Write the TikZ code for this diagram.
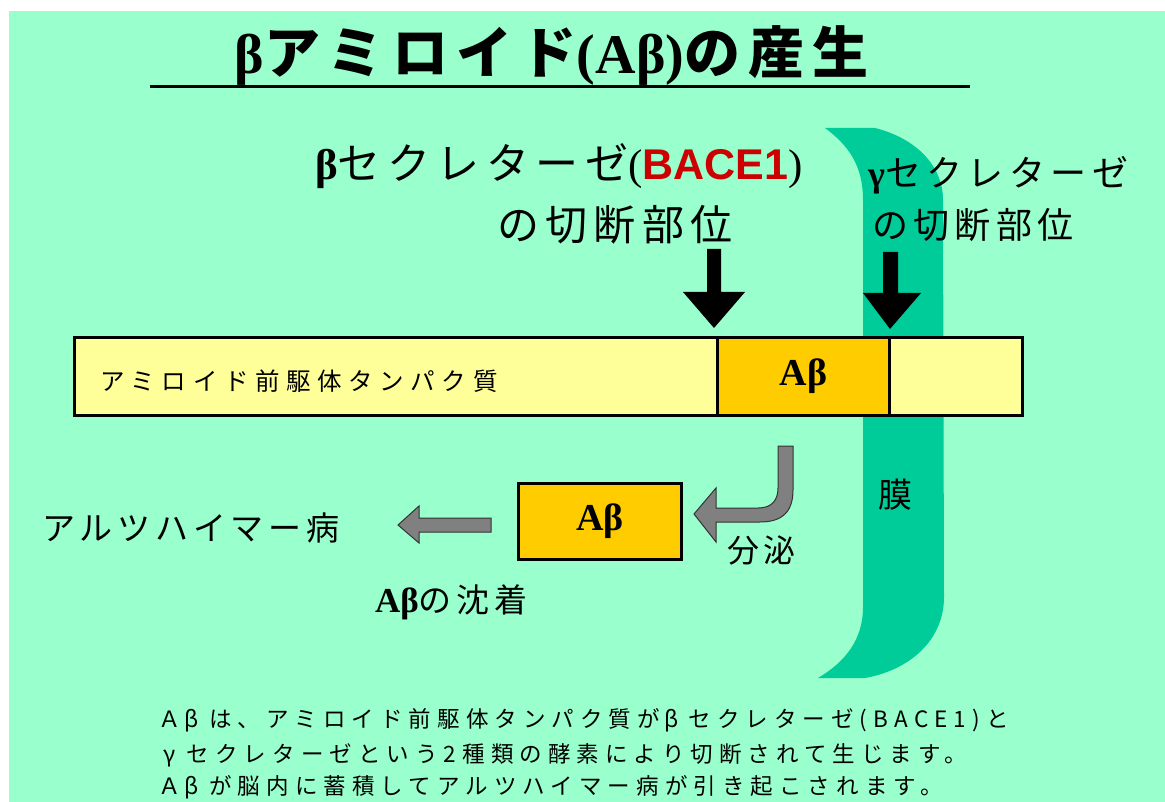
\documentclass[tikz,border=0pt]{standalone}
\usepackage{fontspec}
\setmainfont{Liberation Serif}
\newfontfamily\jp{Noto Sans CJK JP}
\newfontfamily\jpsp[LetterSpace=15]{Noto Sans CJK JP}
\newfontfamily\jpbt[LetterSpace=27]{Noto Sans CJK JP}
\newfontfamily\lsans{Liberation Sans}
\definecolor{bg}{HTML}{99FFCC}
\definecolor{memb}{HTML}{00CC99}
\definecolor{barY}{HTML}{FFFF99}
\definecolor{gold}{HTML}{FFCC00}
\definecolor{bacered}{HTML}{CC0000}
\definecolor{arrgrey}{HTML}{808080}
\newcommand\fsz[1]{\fontsize{#1}{#1}\selectfont}
\newcommand\fwgr[1]{\makebox[1em]{#1}\kern0.27em}
\tikzset{
  box/.style={draw, line width=3pt, inner sep=0pt, anchor=north west},
  greyarrow/.style={fill=arrgrey, draw=black!80, line width=1pt},
  cutarrow/.style={fill=black},
  abtext/.style={font=\bfseries\fsz{38}},
  lbl/.style={inner sep=0pt, anchor=base west},
}
\begin{document}
\begin{tikzpicture}[x=1pt,y=-1pt]
\useasboundingbox (0,0) rectangle (1165,802);
\fill[white] (0,0) rectangle (1165,802);
\fill[bg] (9,11) rectangle (1165,802);
% membrane
\fill[memb] (825,128) -- (875,128) .. controls (915,138) and (943,165) .. (943,200)
  -- (944,597) .. controls (944,640) and (910,670) .. (865,678) -- (818,678)
  .. controls (845,662) and (863,640) .. (863,607) -- (863,200)
  .. controls (863,165) and (848,145) .. (825,128) -- cycle;
% title
\node[inner sep=0pt, anchor=base] (title) at (552,74)
  {\bfseries\fsz{56}β{\jpsp\bfseries アミロイド}(Aβ){\jpsp\bfseries の産生}};
\coordinate (ulL) at (150,87);
\coordinate (ulR) at (970,87);
\draw[line width=3pt] (ulL) -- (ulR);
% beta label
\node[lbl] (blab1) at (315,180)
  {\fsz{43}\textbf{β}{\jpsp セクレターゼ}({\lsans\bfseries\color{bacered}BACE1})};
\node[lbl] (blab2) at (497,241) {\jpsp\fsz{42}の切断部位};
% gamma label
\node[lbl] (glab1) at (868,187) {\fsz{36}\textbf{γ}{\jpsp セクレターゼ}};
\node[lbl] (glab2) at (872,239) {\jpsp\fsz{36}の切断部位};
% cut arrows
\fill[cutarrow] (707,249) -- (721,249) -- (721,292) -- (745,292) -- (714,328) -- (683,292) -- (707,292) -- cycle;
\fill[cutarrow] (883,252) -- (898,252) -- (898,293) -- (921,293) -- (890,329) -- (863,293) -- (883,293) -- cycle;
% APP bar
\node[box, fill=barY, minimum width=948pt, minimum height=78pt] (app) at (73,336) {};
\node[box, fill=gold, minimum width=172pt, minimum height=78pt, abtext] (abin) at (716,336) {Aβ};
\node[lbl] (apptext) at (100,391) {\jpbt\fsz{24.5}アミロイド前駆体タンパク質};
% secreted Abeta
\node[box, fill=gold, minimum width=163pt, minimum height=76pt, abtext] (about) at (517,482) {Aβ};
% curved grey arrow (secretion)
\filldraw[greyarrow] (778,446) -- (793,446) -- (793,490) .. controls (793,512) and (782,522) .. (760,522)
  -- (716,522) -- (716,542) -- (694,514) -- (716,488) -- (716,508) -- (758,508)
  .. controls (772,508) and (778,500) .. (778,488) -- cycle;
\node[lbl] (secr) at (727,562) {\jpsp\fsz{32}分泌};
\node[inner sep=0pt] (mem) at (895,495) {\jp\fsz{34}膜};
% left grey arrow
\filldraw[greyarrow] (491,518) -- (491,532) -- (419,532) -- (419,543) -- (398,525) -- (419,506) -- (419,518) -- cycle;
\node[lbl] (ad) at (42,540) {\jpsp\fsz{33}アルツハイマー病};
\node[lbl] (depo) at (375,612) {\fsz{35}\textbf{Aβ}{\jpsp\fsz{33}の沈着}};
% bottom explanation
\node[lbl] (t1) at (158,727) {\jpbt\fsz{22.5}Ａ\fwgr{β}は、アミロイド前駆体タンパク質が\fwgr{β}セクレターゼ(BACE1)と};
\node[lbl] (t2) at (158,762) {\jpbt\fsz{22.5}\fwgr{γ}セクレターゼという2種類の酵素により切断されて生じます。};
\node[lbl] (t3) at (158,794) {\jpbt\fsz{22.5}Ａ\fwgr{β}が脳内に蓄積してアルツハイマー病が引き起こされます。};
\end{tikzpicture}
\end{document}
